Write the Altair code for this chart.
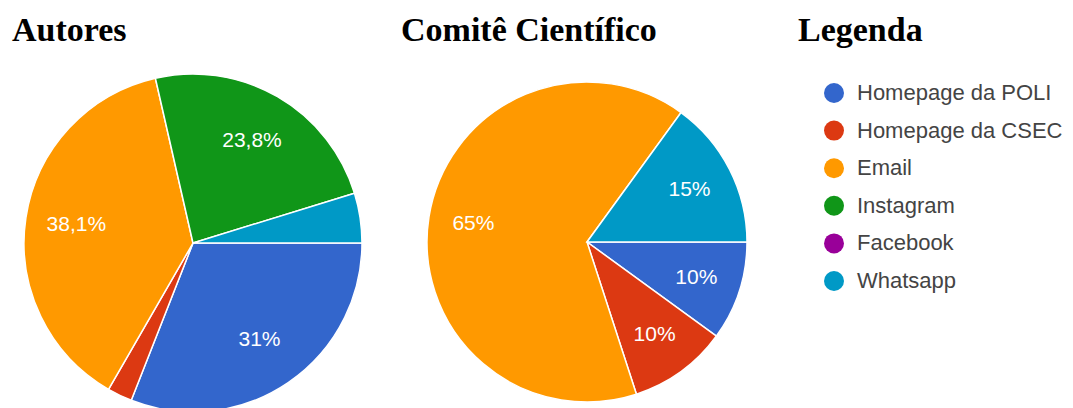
import math
import altair as alt
import pandas as pd

categories = ["Homepage da POLI", "Homepage da CSEC", "Email", "Instagram", "Facebook", "Whatsapp"]
colors = ["#3366cc", "#dc3912", "#ff9900", "#109618", "#990099", "#0099c6"]
autores_counts = [13, 1, 16, 10, 0, 2]
comite_counts = [2, 2, 13, 0, 0, 3]
titles = ["Autores", "Comitê Científico", "Legenda"]


def make_df(counts):
    total = sum(counts)
    rows = []
    for i, (c, n) in enumerate(zip(categories, counts)):
        pct = 100 * n / total
        s = f"{pct:.1f}".replace(".", ",")
        if s.endswith(",0"):
            s = s[:-2]
        rows.append(dict(cat=c, n=n, idx=i, label=(s + "%") if pct >= 5 else ""))
    return pd.DataFrame(rows)


df_a = make_df(autores_counts)
df_b = make_df(comite_counts)

theta_scale = alt.Scale(range=[math.pi / 2, math.pi / 2 + 2 * math.pi])

color = alt.Color(
    "cat:N",
    scale=alt.Scale(domain=categories, range=colors),
    legend=alt.Legend(
        title=None,
        orient="none",
        legendX=823,
        legendY=82,
        symbolType="circle",
        symbolSize=400,
        symbolStrokeWidth=0,
        labelFontSize=22,
        labelFont="Liberation Sans",
        labelColor="#444444",
        labelOffset=12,
        labelLimit=400,
        rowPadding=15.6,
        padding=0,
    ),
)


def pie(df, cx, cy, r, lr):
    base = alt.Chart(df).transform_filter("datum.n > 0")
    arcs = base.mark_arc(outerRadius=r, stroke="white", strokeWidth=1.5).encode(
        theta=alt.Theta("n:Q", stack=True, scale=theta_scale),
        order=alt.Order("idx:Q"),
        color=color,
        x=alt.value(cx),
        y=alt.value(cy),
    )
    labels = base.mark_text(
        radius=lr, font="Liberation Sans", fontSize=21, color="white"
    ).encode(
        theta=alt.Theta("n:Q", stack=True, scale=theta_scale),
        order=alt.Order("idx:Q"),
        text=alt.Text("label:N"),
        x=alt.value(cx),
        y=alt.value(cy),
    )
    return arcs, labels


a_arcs, a_labels = pie(df_a, 193, 243, 169, 118)
b_arcs, b_labels = pie(df_b, 587, 242, 160, 115)


def title_mark(text, x):
    return alt.Chart(alt.Data(values=[{}])).mark_text(
        text=text,
        font="Liberation Serif",
        fontSize=34,
        fontWeight="bold",
        color="black",
        align="left",
        baseline="alphabetic",
    ).encode(x=alt.value(x), y=alt.value(41))


chart = alt.layer(
    a_arcs, a_labels, b_arcs, b_labels,
    title_mark(titles[0], 12),
    title_mark(titles[1], 401),
    title_mark(titles[2], 798),
).resolve_scale(theta="independent").properties(
    width=1073,
    height=408,
    padding=0,
    autosize=alt.AutoSizeParams(type="none"),
).configure_view(stroke=None)

chart.save("out.html", embed_options={"renderer": "svg", "actions": False})
